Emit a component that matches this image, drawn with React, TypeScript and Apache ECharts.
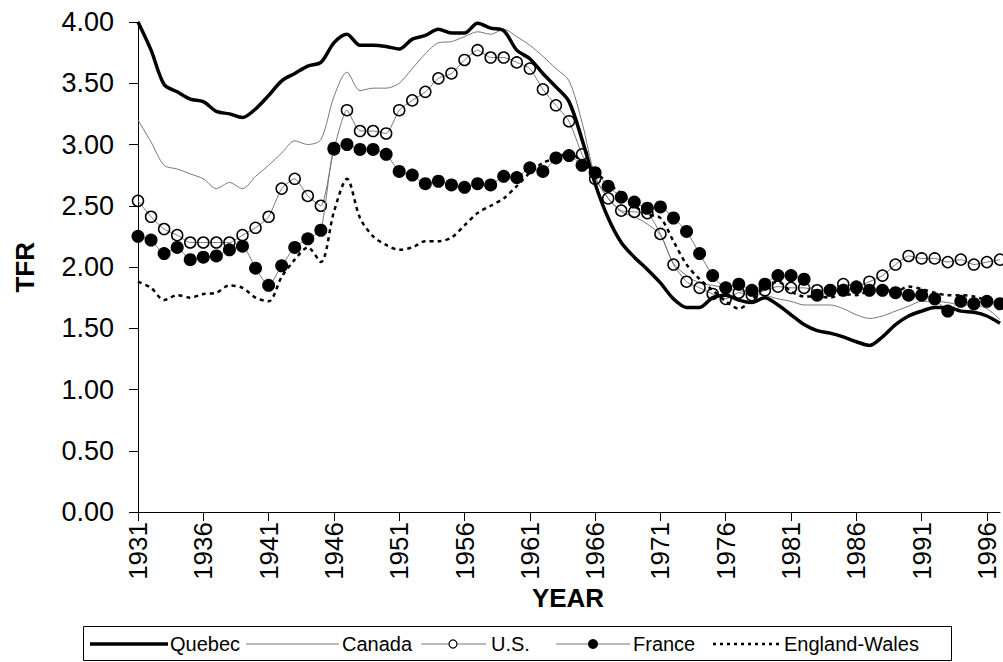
import React, { useEffect, useRef } from "react";
import * as echarts from "echarts";

const years: string[] = Array.from({ length: 67 }, (_, i) => String(1931 + i));
const yTicks = ["0.00", "0.50", "1.00", "1.50", "2.00", "2.50", "3.00", "3.50", "4.00"];

const quebec = [
  4.0, 3.77, 3.49, 3.43, 3.37, 3.35, 3.27, 3.25, 3.22, 3.29,
  3.4, 3.52, 3.58, 3.64, 3.67, 3.83, 3.9, 3.81, 3.81, 3.8,
  3.78, 3.86, 3.89, 3.94, 3.91, 3.91, 3.99, 3.95, 3.93, 3.77,
  3.7, 3.58, 3.47, 3.35, 3.04, 2.68, 2.4, 2.2, 2.08, 1.98,
  1.87, 1.74, 1.67, 1.67, 1.75, 1.77, 1.73, 1.71, 1.75, 1.69,
  1.61, 1.53, 1.48, 1.46, 1.43, 1.39, 1.36, 1.43, 1.53, 1.6,
  1.64, 1.67, 1.67, 1.64, 1.63, 1.6, 1.54,
];
const canada = [
  3.2, 3.02, 2.83, 2.8, 2.76, 2.72, 2.64, 2.69, 2.64, 2.74,
  2.83, 2.93, 3.03, 3.0, 3.04, 3.39, 3.59, 3.44, 3.46, 3.46,
  3.5, 3.62, 3.74, 3.83, 3.84, 3.88, 3.92, 3.9, 3.94, 3.88,
  3.81, 3.72, 3.62, 3.52, 3.18, 2.74, 2.56, 2.45, 2.41, 2.35,
  2.26, 2.03, 1.93, 1.87, 1.85, 1.83, 1.81, 1.78, 1.77, 1.74,
  1.72, 1.69, 1.69, 1.69, 1.66, 1.61, 1.58, 1.6, 1.64, 1.68,
  1.72, 1.72, 1.71, 1.69, 1.69, 1.66, 1.57,
];
const us = [
  2.54, 2.41, 2.31, 2.26, 2.2, 2.2, 2.2, 2.2, 2.26, 2.32,
  2.41, 2.64, 2.72, 2.58, 2.5, 2.96, 3.28, 3.11, 3.11, 3.09,
  3.28, 3.36, 3.43, 3.54, 3.58, 3.69, 3.77, 3.71, 3.71, 3.67,
  3.62, 3.45, 3.32, 3.19, 2.92, 2.72, 2.56, 2.46, 2.45, 2.44,
  2.27, 2.02, 1.88, 1.83, 1.78, 1.74, 1.79, 1.77, 1.81, 1.84,
  1.83, 1.83, 1.81, 1.81, 1.86, 1.84, 1.88, 1.93, 2.02, 2.09,
  2.07, 2.07, 2.04, 2.06, 2.02, 2.04, 2.06,
];
const france = [
  2.25, 2.22, 2.11, 2.16, 2.06, 2.08, 2.09, 2.14, 2.17, 1.99,
  1.85, 2.01, 2.16, 2.23, 2.3, 2.97, 3.0, 2.96, 2.96, 2.92,
  2.78, 2.75, 2.68, 2.7, 2.67, 2.65, 2.68, 2.67, 2.74, 2.73,
  2.81, 2.78, 2.89, 2.91, 2.83, 2.77, 2.66, 2.57, 2.53, 2.48,
  2.49, 2.4, 2.29, 2.11, 1.93, 1.83, 1.86, 1.81, 1.86, 1.93,
  1.93, 1.9, 1.77, 1.81, 1.81, 1.83, 1.81, 1.81, 1.79, 1.77,
  1.77, 1.74, 1.64, 1.72, 1.7, 1.72, 1.7,
];
const englandWales = [
  1.88, 1.83, 1.73, 1.77, 1.75, 1.78, 1.79, 1.85, 1.83, 1.75,
  1.72, 1.92, 2.06, 2.16, 2.04, 2.45, 2.72, 2.4, 2.25, 2.18,
  2.14, 2.16, 2.21, 2.21, 2.24, 2.34, 2.44, 2.5, 2.56, 2.66,
  2.77, 2.85, 2.89, 2.93, 2.86, 2.78, 2.68, 2.6, 2.5, 2.43,
  2.4, 2.21, 2.02, 1.9, 1.81, 1.72, 1.66, 1.73, 1.84, 1.88,
  1.8, 1.76, 1.76, 1.75, 1.78, 1.77, 1.81, 1.82, 1.8, 1.84,
  1.82, 1.79, 1.77, 1.77, 1.76, 1.73, 1.72,
];

const FONT = "'Liberation Sans', Arial, Helvetica, sans-serif";

export default function App() {
  const ref = useRef<HTMLDivElement>(null);
  useEffect(() => {
    document.body.style.margin = "0";
    if (!ref.current) return;
    const chart = echarts.init(ref.current, null, { renderer: "svg" });
    const legendY = 644;
    chart.setOption({
      animation: false,
      backgroundColor: "#ffffff",
      textStyle: { fontFamily: FONT },
      grid: { left: 138, right: 3, top: 22, bottom: 150, containLabel: false },
      xAxis: {
        type: "category",
        data: years,
        boundaryGap: false,
        axisLine: { lineStyle: { color: "#000", width: 1 } },
        axisTick: { show: true, interval: 4, length: 9, lineStyle: { color: "#000" } },
        axisLabel: { interval: 4, rotate: 90, fontSize: 26, color: "#000", margin: 10, fontFamily: FONT },
        splitLine: { show: false },
      },
      yAxis: {
        type: "value",
        min: 0,
        max: 4,
        interval: 0.5,
        axisLine: { show: true, lineStyle: { color: "#000", width: 1 } },
        axisTick: { show: true, length: 9, lineStyle: { color: "#000" } },
        axisLabel: {
          fontSize: 27,
          color: "#000",
          margin: 24,
          fontFamily: FONT,
          formatter: (v: number) => yTicks[Math.round(v / 0.5)] ?? v.toFixed(2),
        },
        splitLine: { show: false },
      },
      series: [
        {
          name: "Canada",
          type: "line",
          data: canada,
          smooth: 0.3,
          symbol: "none",
          lineStyle: { color: "#777", width: 1 },
          z: 2,
        },
        {
          name: "U.S.",
          type: "line",
          data: us,
          smooth: 0.2,
          symbol: "circle",
          symbolSize: 11,
          showSymbol: true,
          showAllSymbol: true,
          lineStyle: { color: "#777", width: 1 },
          itemStyle: { color: "rgba(255,255,255,0)", borderColor: "#000", borderWidth: 1.5 },
          z: 3,
        },
        {
          name: "France",
          type: "line",
          data: france,
          smooth: 0.2,
          symbol: "circle",
          symbolSize: 13,
          showSymbol: true,
          showAllSymbol: true,
          lineStyle: { color: "#777", width: 1 },
          itemStyle: { color: "#000", borderColor: "#000", borderWidth: 0 },
          z: 4,
        },
        {
          name: "England-Wales",
          type: "line",
          data: englandWales,
          smooth: 0.3,
          symbol: "none",
          lineStyle: { color: "#000", width: 2.5, type: [4, 4] },
          z: 5,
        },
        {
          name: "Quebec",
          type: "line",
          data: quebec,
          smooth: 0.3,
          symbol: "none",
          lineStyle: { color: "#000", width: 3.5 },
          z: 6,
        },
      ],
      graphic: [
        {
          type: "text",
          left: 12,
          top: 242,
          rotation: Math.PI / 2,
          style: { text: "TFR", font: `bold 26px ${FONT}`, fill: "#000" },
          originX: 0,
          originY: 0,
        },
        {
          type: "text",
          x: 568,
          y: 598,
          style: { text: "YEAR", font: `bold 26px ${FONT}`, fill: "#000", align: "center", verticalAlign: "middle" },
        },
        {
          type: "rect",
          shape: { x: 83.5, y: 626.5, width: 868, height: 34 },
          style: { fill: "#fff", stroke: "#000", lineWidth: 1 },
        },
        { type: "line", shape: { x1: 90, y1: legendY, x2: 168, y2: legendY }, style: { stroke: "#000", lineWidth: 3.5 } },
        { type: "text", x: 170, y: legendY, style: { text: "Quebec", font: `20px ${FONT}`, fill: "#000", verticalAlign: "middle" } },
        { type: "line", shape: { x1: 246, y1: legendY, x2: 339, y2: legendY }, style: { stroke: "#777", lineWidth: 1 } },
        { type: "text", x: 342, y: legendY, style: { text: "Canada", font: `20px ${FONT}`, fill: "#000", verticalAlign: "middle" } },
        { type: "line", shape: { x1: 421, y1: legendY, x2: 486, y2: legendY }, style: { stroke: "#777", lineWidth: 1 } },
        { type: "circle", shape: { cx: 453, cy: legendY, r: 4 }, style: { fill: "#fff", stroke: "#000", lineWidth: 1.2 } },
        { type: "text", x: 491, y: legendY, style: { text: "U.S.", font: `20px ${FONT}`, fill: "#000", verticalAlign: "middle" } },
        { type: "line", shape: { x1: 556, y1: legendY, x2: 630, y2: legendY }, style: { stroke: "#777", lineWidth: 1 } },
        { type: "circle", shape: { cx: 593, cy: legendY, r: 5 }, style: { fill: "#000", stroke: "#000", lineWidth: 0 } },
        { type: "text", x: 633, y: legendY, style: { text: "France", font: `20px ${FONT}`, fill: "#000", verticalAlign: "middle" } },
        { type: "line", shape: { x1: 713, y1: legendY, x2: 782, y2: legendY }, style: { stroke: "#000", lineWidth: 2.5, lineDash: [3, 4] } },
        { type: "text", x: 784, y: legendY, style: { text: "England-Wales", font: `20px ${FONT}`, fill: "#000", verticalAlign: "middle" } },
      ],
    });
    return () => chart.dispose();
  }, []);
  return <div ref={ref} style={{ width: 1003, height: 662 }} />;
}
